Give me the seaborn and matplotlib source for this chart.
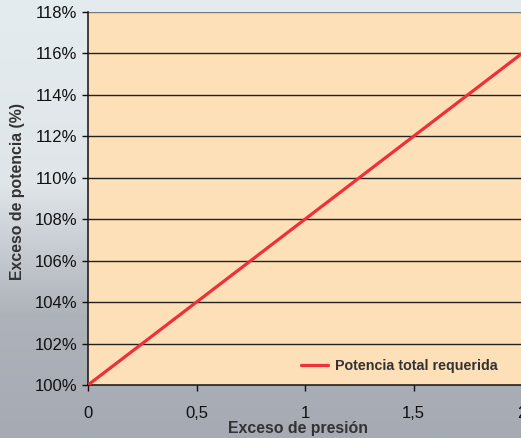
import numpy as np
import pandas as pd
import seaborn as sns
import matplotlib.pyplot as plt
from matplotlib.colors import LinearSegmentedColormap
from matplotlib.ticker import FuncFormatter

# data
exceso_presion = [0, 0.5, 1, 1.5, 2]
exceso_potencia = [1.00, 1.04, 1.08, 1.12, 1.16]
serie = 'Potencia total requerida'
x_ticks = [0, 0.5, 1, 1.5, 2]
x_tick_labels = ['0', '0,5', '1', '1,5', '2']
y_ticks = [1.00, 1.02, 1.04, 1.06, 1.08, 1.10, 1.12, 1.14, 1.16, 1.18]

df = pd.DataFrame({'presion': exceso_presion, 'potencia': exceso_potencia, 'serie': serie})

sns.set_style('white')
plt.rcParams['font.family'] = ['Liberation Sans', 'DejaVu Sans']

fig = plt.figure(figsize=(5.21, 4.38), dpi=100)

# gradient background (light on top, grey at the bottom)
bg = fig.add_axes([0, 0, 1, 1], zorder=-10)
cmap = LinearSegmentedColormap.from_list('bg', [(0, '#e5ecef'), (0.42, '#dfe5e9'),
                                                (0.72, '#aeb3ba'), (1, '#a6abb3')])
grad = np.linspace(0, 1, 256).reshape(-1, 1)
bg.imshow(grad, aspect='auto', cmap=cmap, extent=[0, 1, 0, 1], origin='upper')
bg.set_axis_off()

ax = fig.add_axes([88 / 521, 1 - 385 / 438, (522 - 88) / 521, (385 - 12) / 438])
ax.set_facecolor('#fde0b8')

for y in y_ticks[1:]:
    ax.axhline(y, color='#222222' if y < 1.18 else '#7a7a7a', lw=1.0, zorder=1)

sns.lineplot(data=df, x='presion', y='potencia', hue='serie', palette=['#ee3138'],
             lw=2.3, ax=ax, zorder=3)

ax.set_xlim(0, 2)
ax.set_ylim(1.00, 1.18)
ax.set_xticks(x_ticks)
ax.set_xticklabels(x_tick_labels)
ax.set_yticks(y_ticks)
ax.yaxis.set_major_formatter(FuncFormatter(lambda v, p: f'{v * 100:.0f}%'))
ax.tick_params(axis='both', labelsize=12, colors='#111111', length=4, width=1,
               direction='out', bottom=True, left=True)
ax.tick_params(axis='x', pad=11)
ax.tick_params(axis='y', pad=3.5)

for s in ['top', 'right']:
    ax.spines[s].set_visible(False)
for s in ['left', 'bottom']:
    ax.spines[s].set_color('#111111')
    ax.spines[s].set_linewidth(1.1)

ax.set_xlabel('Exceso de presión', fontsize=11.4, fontweight='bold', color='#333333')
ax.set_ylabel('Exceso de potencia (%)', fontsize=11.4, fontweight='bold', color='#333333')
ax.xaxis.set_label_coords((298 - 88) / 434, -(429 - 385) / 373)
ax.yaxis.set_label_coords(-(88 - 18) / 434, 0.52)
ax.xaxis.label.set_va('center')
ax.yaxis.label.set_va('center')

leg = ax.legend(loc='center left', frameon=False, fontsize=10.3, handlelength=1.9,
                handletextpad=0.5, borderpad=0, borderaxespad=0,
                bbox_to_anchor=(0.49, 0.052))
for t in leg.get_texts():
    t.set_fontweight('bold')
    t.set_color('#333333')

fig.savefig('out.png', dpi=100, facecolor=fig.get_facecolor())
